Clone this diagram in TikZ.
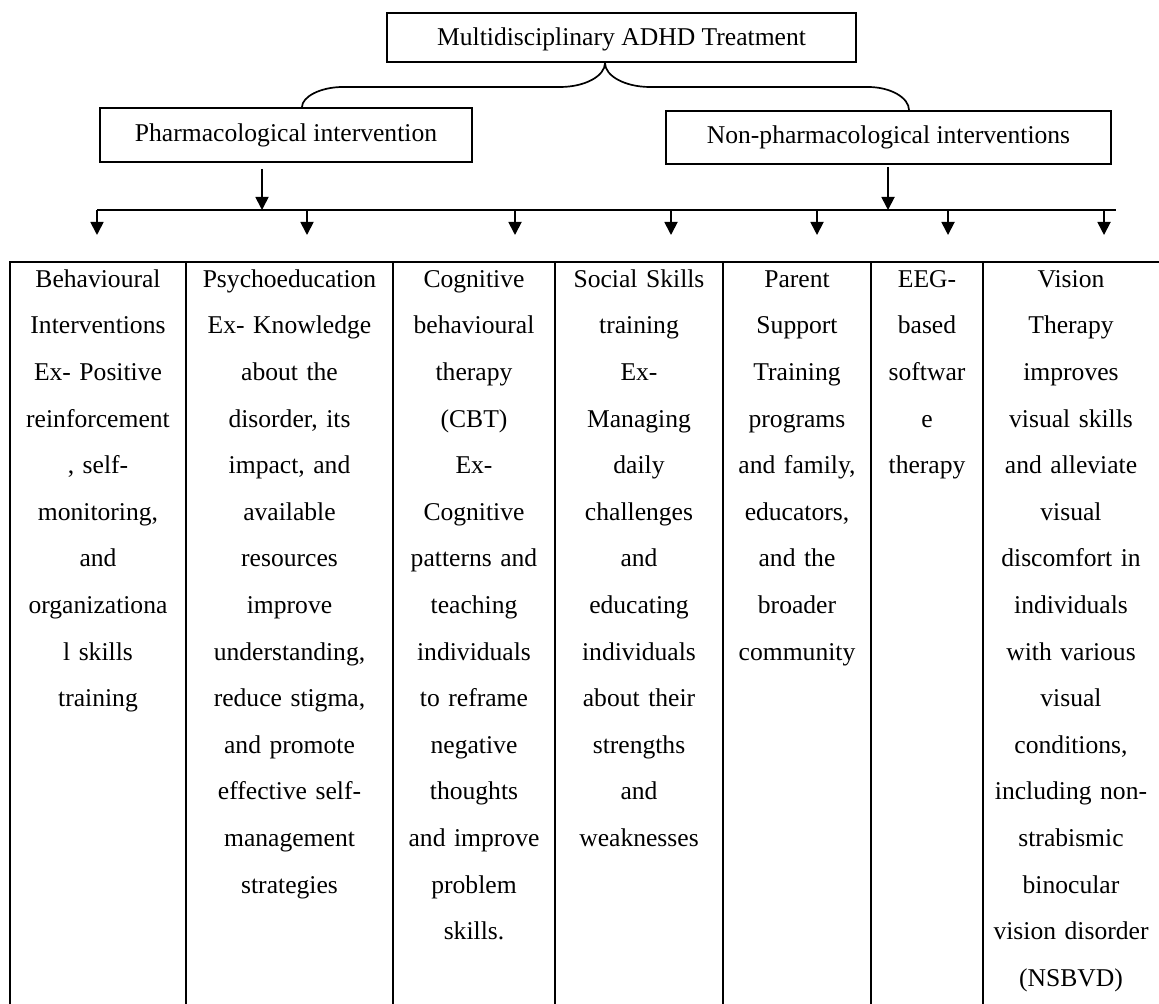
\documentclass[tikz,border=0pt]{standalone}
\usepackage{fontspec}
\setmainfont{Liberation Serif}
\usetikzlibrary{arrows.meta,calc}

\begin{document}
\begin{tikzpicture}[x=0.5pt,y=-0.5pt,
  basefont/.style={font=\fontsize{12.8}{23.3}\selectfont},
  box/.style={draw,line width=1pt,inner sep=0pt,basefont,text height=9pt,text depth=2.5pt},
  cell/.style={anchor=north,align=center,text width=100pt,inner sep=0pt,basefont},
  link/.style={line width=0.85pt},
  bigarrow/.style={line width=0.9pt,-{Triangle[length=6.5pt,width=6.5pt]}},
  droparrow/.style={line width=0.9pt,-{Triangle[length=6.5pt,width=6.5pt]}},
  gridline/.style={line width=1pt}]

\useasboundingbox (0,0) rectangle (1159,1004);

% headings
\node[box,minimum width=234.5pt,minimum height=24.5pt,text height=10.2pt] (root) at (621.5,37.5)
  {Multidisciplinary ADHD Treatment};
\node[box,minimum width=186pt,minimum height=27pt] (pharm) at (286,135)
  {Pharmacological intervention};
\node[box,minimum width=222.5pt,minimum height=26.5pt] (nonpharm) at (888.5,137.5)
  {Non-pharmacological interventions};

% brace splitting the treatment into two branches
\coordinate (apex) at ($(root.south)+(-16.5,0)$);
\coordinate (pharm-in) at ($(pharm.north)+(16,0)$);
\coordinate (nonpharm-in) at ($(nonpharm.north)+(20.5,0)$);
\draw[link] (apex) .. controls (605,76) and (585,87) .. (560,87) -- (343,87)
  .. controls (320,87) and (302,97) .. (pharm-in);
\draw[link] (apex) .. controls (605,76) and (625,87) .. (650,87) -- (868,87)
  .. controls (891,87) and (909,98) .. (nonpharm-in);

% distribution bus
\coordinate (bus-w) at (97,210);
\coordinate (bus-e) at (1116,210);
\draw[link] (bus-w) -- (bus-e);

\coordinate (pharm-out) at ($(pharm.south)+(-24,6)$);
\coordinate (pharm-bus) at (262,210);
\coordinate (nonpharm-out) at ($(nonpharm.south)+(-0.5,2)$);
\coordinate (nonpharm-bus) at (888,210);
\draw[bigarrow] (pharm-out) -- (pharm-bus);
\draw[bigarrow] (nonpharm-out) -- (nonpharm-bus);

\foreach \i/\x in {1/97,2/307,3/515,4/671,5/817,6/948,7/1104}{
  \coordinate (drop-\i) at (\x,210);
  \coordinate (tip-\i) at (\x,235);
  \draw[droparrow] (drop-\i) -- (tip-\i);
}

% table rules
\draw[gridline] (10,1004) -- (10,262) -- (1159,262);
\foreach \x in {186,393,555,723,871,983}{
  \draw[gridline] (\x,262) -- (\x,1004);
}

% column texts
\node[cell] (c1) at (98,267) {\rule{0pt}{10pt}Behavioural\\Interventions\\Ex- Positive\\reinforcement\\, self-\\monitoring,\\and\\organizationa\\l skills\\training};
\node[cell] (c2) at (289.5,267) {\rule{0pt}{10pt}Psychoeducation\\Ex- Knowledge\\about the\\disorder, its\\impact, and\\available\\resources\\improve\\understanding,\\reduce stigma,\\and promote\\effective self-\\management\\strategies};
\node[cell] (c3) at (474,267) {\rule{0pt}{10pt}Cognitive\\behavioural\\therapy\\(CBT)\\Ex-\\Cognitive\\patterns and\\teaching\\individuals\\to reframe\\negative\\thoughts\\and improve\\problem\\skills.};
\node[cell] (c4) at (639,267) {\rule{0pt}{10pt}Social Skills\\training\\Ex-\\Managing\\daily\\challenges\\and\\educating\\individuals\\about their\\strengths\\and\\weaknesses};
\node[cell] (c5) at (797,267) {\rule{0pt}{10pt}Parent\\Support\\Training\\programs\\and family,\\educators,\\and the\\broader\\community};
\node[cell] (c6) at (927,267) {\rule{0pt}{10pt}EEG-\\based\\softwar\\e\\therapy};
\node[cell] (c7) at (1071,267) {\rule{0pt}{10pt}Vision\\Therapy\\improves\\visual skills\\and alleviate\\visual\\discomfort in\\individuals\\with various\\visual\\conditions,\\including non-\\strabismic\\binocular\\vision disorder\\(NSBVD)};

\end{tikzpicture}
\end{document}
